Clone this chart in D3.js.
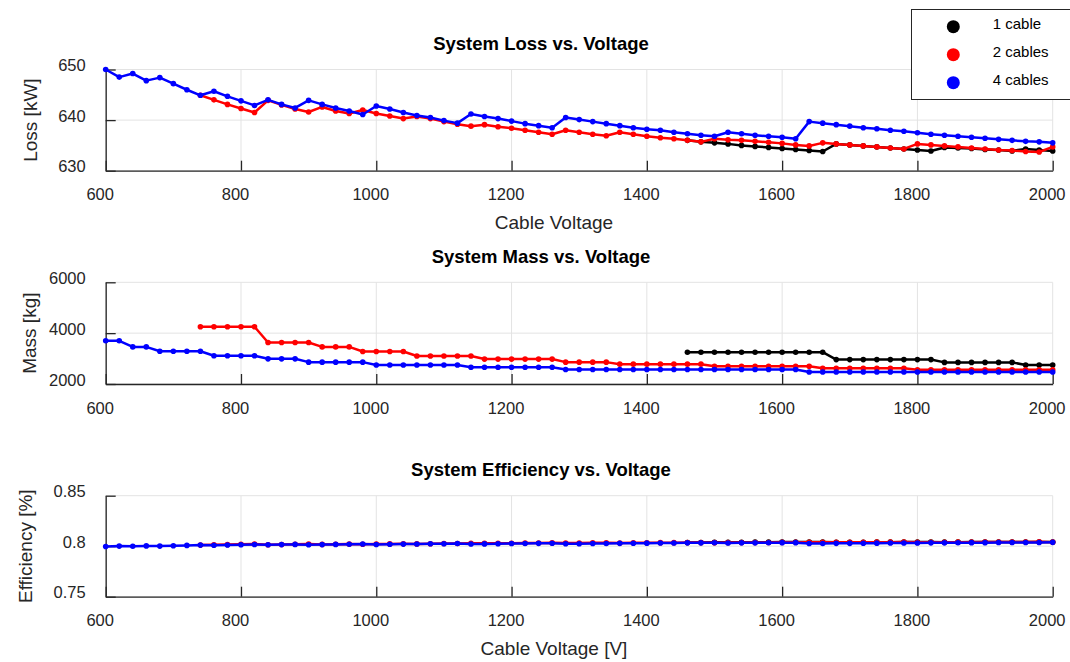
<!DOCTYPE html>
<html>
<head>
  <meta charset="utf-8">
  <title>System Loss / Mass / Efficiency vs. Voltage</title>
  <script src="https://d3js.org/d3.v7.min.js"></script>
  <style>
    body { margin: 0; background: #fff; }
    svg { font-family: "Liberation Sans", Arial, sans-serif; }
    .grid line { stroke: #e3e3e3; stroke-width: 1px; }
    .axis path, .axis line { stroke: #262626; stroke-width: 1.3px; }
    .axis text { fill: #262626; font-size: 16.5px; }
    .title { font-size: 18.5px; font-weight: bold; fill: #000; }
    .label { font-size: 19px; fill: #262626; }
    .series { fill: none; stroke-width: 2.5px; stroke-linejoin: round; }
  </style>
</head>
<body>
  <script>
    // voltages: 600..2000 step 20 for 4 cables, 2 cables start at 740, 1 cable at 1460
    const volts4 = d3.range(600, 2001, 20);
    const volts2 = d3.range(740, 2001, 20);
    const volts1 = d3.range(1460, 2001, 20);

    const xTicks = [600, 800, 1000, 1200, 1400, 1600, 1800, 2000];
    const lossTicks = [630, 640, 650];
    const massTicks = [2000, 4000, 6000];
    const effTicks = [0.75, 0.8, 0.85];

    const legendNames = ["1 cable", "2 cables", "4 cables"];
    const colors = ["#000000", "#ff0000", "#0000ff"];

    // Loss [kW]
    const loss4 = [650.0, 648.5, 649.2, 647.8, 648.4, 647.2, 646.0, 644.9, 645.7, 644.7,
      643.8, 642.9, 644.0, 643.1, 642.4, 643.9, 643.1, 642.4, 641.8, 641.1,
      642.8, 642.2, 641.5, 640.9, 640.5, 639.9, 639.4, 641.2, 640.7, 640.3,
      639.8, 639.3, 638.9, 638.5, 640.5, 640.1, 639.7, 639.3, 638.9, 638.5,
      638.2, 638.0, 637.6, 637.3, 637.0, 636.8, 637.6, 637.3, 637.0, 636.8,
      636.6, 636.3, 639.7, 639.4, 639.1, 638.8, 638.5, 638.3, 638.0, 637.8,
      637.5, 637.2, 637.0, 636.8, 636.6, 636.4, 636.2, 636.0, 635.8, 635.7, 635.5];
    const loss2 = [644.9, 644.0, 643.1, 642.3, 641.5, 643.9, 643.0, 642.2, 641.6, 642.6,
      641.8, 641.3, 642.0, 641.3, 640.8, 640.3, 640.7, 640.3, 639.7, 639.2,
      638.8, 639.1, 638.7, 638.4, 638.0, 637.6, 637.2, 638.0, 637.6, 637.2,
      636.9, 637.6, 637.2, 636.8, 636.5, 636.3, 636.0, 635.7, 636.3, 636.1,
      636.0, 635.8, 635.6, 635.4, 635.1, 634.9, 635.5, 635.3, 635.1, 634.9,
      634.7, 634.5, 634.3, 635.3, 635.1, 634.9, 634.7, 634.5, 634.3, 634.1,
      634.0, 633.8, 633.7, 634.7];
    const loss1 = [636.0, 635.7, 635.5, 635.3, 635.0, 634.8, 634.6, 634.4, 634.2, 634.0,
      633.8, 635.3, 635.1, 634.9, 634.7, 634.5, 634.3, 634.1, 633.9, 634.6,
      634.5, 634.4, 634.2, 634.1, 633.9, 634.3, 634.1, 633.9];

    // Mass [kg]
    const mass4 = [3700, 3700, 3460, 3460, 3290, 3290, 3290, 3290, 3110, 3110,
      3110, 3110, 2990, 2990, 2990, 2860, 2860, 2860, 2860, 2860,
      2750, 2750, 2750, 2750, 2750, 2750, 2750, 2660, 2660, 2660,
      2660, 2660, 2660, 2660, 2570, 2570, 2570, 2570, 2570, 2570,
      2570, 2570, 2570, 2570, 2570, 2570, 2570, 2570, 2570, 2570,
      2570, 2570, 2470, 2470, 2470, 2470, 2470, 2470, 2470, 2470,
      2470, 2470, 2470, 2470, 2470, 2470, 2470, 2470, 2470, 2470, 2470];
    const mass2 = [4250, 4250, 4250, 4250, 4250, 3630, 3630, 3630, 3630, 3460,
      3460, 3460, 3280, 3280, 3280, 3280, 3100, 3100, 3100, 3100,
      3100, 2980, 2980, 2980, 2980, 2980, 2980, 2860, 2860, 2860,
      2860, 2780, 2780, 2780, 2780, 2780, 2780, 2780, 2700, 2700,
      2700, 2700, 2700, 2700, 2700, 2700, 2620, 2620, 2620, 2620,
      2620, 2620, 2620, 2560, 2560, 2560, 2560, 2560, 2560, 2560,
      2560, 2560, 2560, 2560];
    const mass1 = [3250, 3250, 3250, 3250, 3250, 3250, 3250, 3250, 3250, 3250,
      3250, 2960, 2960, 2960, 2960, 2960, 2960, 2960, 2960, 2850,
      2850, 2850, 2850, 2850, 2850, 2750, 2750, 2750];

    // Efficiency
    const eff4 = [0.7997, 0.8001, 0.7999, 0.8003, 0.8001, 0.8005, 0.8008, 0.8011, 0.8009, 0.8012,
      0.8014, 0.8017, 0.8014, 0.8016, 0.8018, 0.8014, 0.8016, 0.8018, 0.8020, 0.8022,
      0.8017, 0.8019, 0.8021, 0.8022, 0.8024, 0.8025, 0.8027, 0.8022, 0.8023, 0.8024,
      0.8026, 0.8027, 0.8028, 0.8029, 0.8024, 0.8025, 0.8026, 0.8027, 0.8028, 0.8029,
      0.8030, 0.8031, 0.8032, 0.8033, 0.8033, 0.8034, 0.8032, 0.8033, 0.8033, 0.8034,
      0.8035, 0.8035, 0.8026, 0.8027, 0.8028, 0.8028, 0.8029, 0.8030, 0.8031, 0.8031,
      0.8032, 0.8033, 0.8033, 0.8034, 0.8035, 0.8035, 0.8036, 0.8036, 0.8037, 0.8037, 0.8038];
    const eff2 = [0.8011, 0.8014, 0.8016, 0.8019, 0.8021, 0.8014, 0.8017, 0.8019, 0.8021, 0.8018,
      0.8020, 0.8021, 0.8019, 0.8021, 0.8023, 0.8024, 0.8023, 0.8024, 0.8026, 0.8027,
      0.8028, 0.8028, 0.8029, 0.8029, 0.8031, 0.8032, 0.8033, 0.8031, 0.8032, 0.8033,
      0.8034, 0.8032, 0.8033, 0.8034, 0.8035, 0.8035, 0.8036, 0.8037, 0.8035, 0.8036,
      0.8036, 0.8037, 0.8037, 0.8038, 0.8039, 0.8039, 0.8038, 0.8038, 0.8039, 0.8039,
      0.8040, 0.8040, 0.8041, 0.8038, 0.8039, 0.8039, 0.8040, 0.8040, 0.8041, 0.8042,
      0.8042, 0.8042, 0.8043, 0.8040];
    const eff1 = [0.8036, 0.8037, 0.8038, 0.8038, 0.8039, 0.8040, 0.8040, 0.8041, 0.8041, 0.8042,
      0.8042, 0.8038, 0.8039, 0.8039, 0.8040, 0.8040, 0.8041, 0.8042, 0.8042, 0.8040,
      0.8040, 0.8041, 0.8041, 0.8042, 0.8042, 0.8041, 0.8042, 0.8042];

    const width = 1070;
    const height = 662;
    const left = 105.7, right = 1052.7;

    const svg = d3.select("body").append("svg")
      .attr("width", width)
      .attr("height", height);

    const x = d3.scaleLinear().domain([600, 2000]).range([left, right]);

    const panels = [
      { title: "System Loss vs. Voltage", ylabel: "Loss [kW]", xlabel: "Cable Voltage",
        top: 69.5, bottom: 170.7, domain: [630, 650], ticks: lossTicks, titleY: 50,
        series: [[volts1, loss1], [volts2, loss2], [volts4, loss4]], ylabelX: 37 },
      { title: "System Mass vs. Voltage", ylabel: "Mass [kg]", xlabel: null,
        top: 282.3, bottom: 384, domain: [2000, 6000], ticks: massTicks, titleY: 263,
        series: [[volts1, mass1], [volts2, mass2], [volts4, mass4]], ylabelX: 36 },
      { title: "System Efficiency vs. Voltage", ylabel: "Efficiency [%]", xlabel: "Cable Voltage [V]",
        top: 495.7, bottom: 596.7, domain: [0.75, 0.85], ticks: effTicks, titleY: 476,
        series: [[volts1, eff1], [volts2, eff2], [volts4, eff4]], ylabelX: 32 }
    ];

    panels.forEach(p => {
      const y = d3.scaleLinear().domain(p.domain).range([p.bottom, p.top]);
      const g = svg.append("g");

      // grid
      const grid = g.append("g").attr("class", "grid");
      grid.selectAll(".gx").data(xTicks).join("line")
        .attr("x1", d => x(d)).attr("x2", d => x(d))
        .attr("y1", p.top).attr("y2", p.bottom);
      grid.selectAll(".gy").data(p.ticks).join("line")
        .attr("x1", left).attr("x2", right)
        .attr("y1", d => y(d)).attr("y2", d => y(d));

      // axes
      const ax = g.append("g").attr("class", "axis")
        .attr("transform", `translate(0,${p.bottom})`)
        .call(d3.axisBottom(x).tickValues(xTicks).tickFormat(d3.format("d"))
          .tickSize(-10).tickSizeOuter(0).tickPadding(18));
      ax.selectAll("text").attr("x", -6);

      const ay = g.append("g").attr("class", "axis")
        .attr("transform", `translate(${left},0)`)
        .call(d3.axisLeft(y).tickValues(p.ticks).tickFormat(d => d)
          .tickSize(-10).tickSizeOuter(0).tickPadding(20));
      ay.selectAll("text").attr("y", -4);

      // series
      p.series.forEach(([xs, ys], i) => {
        const pts = xs.map((v, k) => [v, ys[k]]);
        g.append("path")
          .attr("class", "series")
          .attr("stroke", colors[i])
          .attr("d", d3.line().x(d => x(d[0])).y(d => y(d[1]))(pts));
        g.append("g").selectAll("circle").data(pts).join("circle")
          .attr("cx", d => x(d[0])).attr("cy", d => y(d[1]))
          .attr("r", 2.8).attr("fill", colors[i]);
      });

      // text
      g.append("text").attr("class", "title")
        .attr("x", 541).attr("y", p.titleY)
        .attr("text-anchor", "middle").text(p.title);
      g.append("text").attr("class", "label")
        .attr("transform", `translate(${p.ylabelX},${(p.top + p.bottom) / 2}) rotate(-90)`)
        .attr("text-anchor", "middle").text(p.ylabel);
      if (p.xlabel) {
        g.append("text").attr("class", "label")
          .attr("x", 554).attr("y", p.bottom + 58.5)
          .attr("text-anchor", "middle").text(p.xlabel);
      }
    });

    // legend
    const lg = svg.append("g");
    lg.append("rect")
      .attr("x", 911.5).attr("y", 9.5).attr("width", 170).attr("height", 90)
      .attr("fill", "#fff").attr("stroke", "#262626").attr("stroke-width", 1);
    legendNames.forEach((name, i) => {
      lg.append("circle").attr("cx", 953.3).attr("cy", 26.7 + i * 28)
        .attr("r", 6.5).attr("fill", colors[i]);
      lg.append("text").attr("x", 992.7).attr("y", 28.5 + i * 28)
        .attr("font-size", "15px").attr("fill", "#000").text(name);
    });
  </script>
</body>
</html>
